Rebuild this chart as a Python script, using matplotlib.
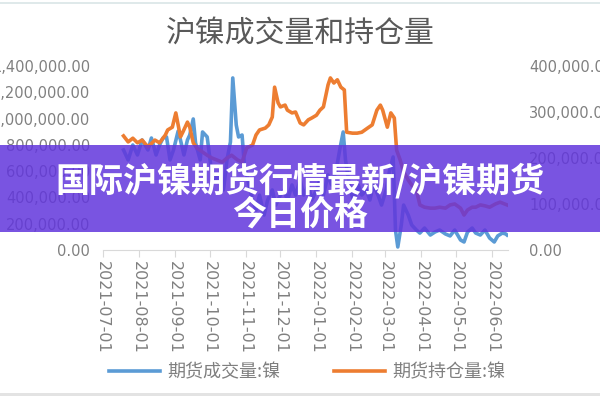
import matplotlib
matplotlib.use("Agg")
import matplotlib.pyplot as plt
import matplotlib.dates as mdates
from matplotlib.patches import Rectangle
from matplotlib.ticker import FuncFormatter, MultipleLocator
import pandas as pd

plt.rcParams['font.family'] = ['Noto Sans CJK SC', 'DejaVu Sans']

# 期货成交量:镍 (left axis), values in thousands
vol_dates = [
    "2021-07-19", "2021-07-23", "2021-07-27", "2021-07-31",
    "2021-08-04", "2021-08-09", "2021-08-12", "2021-08-16", "2021-08-19", "2021-08-22",
    "2021-08-25", "2021-08-28", "2021-08-31",
    "2021-09-04", "2021-09-06", "2021-09-09", "2021-09-12", "2021-09-14", "2021-09-17",
    "2021-09-19", "2021-09-23", "2021-09-25", "2021-09-29",
    "2021-10-02", "2021-10-06", "2021-10-09", "2021-10-13", "2021-10-16", "2021-10-19",
    "2021-10-21", "2021-10-24", "2021-10-26", "2021-10-29", "2021-10-31",
    "2021-11-03", "2021-11-07", "2021-11-10", "2021-11-13", "2021-11-17", "2021-11-20",
    "2021-11-24", "2021-11-27",
    "2021-12-01", "2021-12-04", "2021-12-07", "2021-12-11", "2021-12-14", "2021-12-18",
    "2021-12-21", "2021-12-25", "2021-12-28",
    "2022-01-01", "2022-01-04", "2022-01-07", "2022-01-11", "2022-01-14", "2022-01-18",
    "2022-01-21", "2022-01-24", "2022-01-26", "2022-01-30",
    "2022-02-02", "2022-02-06", "2022-02-09", "2022-02-13", "2022-02-16", "2022-02-19",
    "2022-02-23", "2022-02-26",
    "2022-03-02", "2022-03-05", "2022-03-08", "2022-03-10", "2022-03-12", "2022-03-15",
    "2022-03-17", "2022-03-21", "2022-03-24", "2022-03-28", "2022-03-31",
    "2022-04-04", "2022-04-09", "2022-04-13", "2022-04-17", "2022-04-22", "2022-04-26",
    "2022-04-30",
    "2022-05-05", "2022-05-08", "2022-05-11", "2022-05-15", "2022-05-18", "2022-05-22",
    "2022-05-26", "2022-05-30",
    "2022-06-03", "2022-06-06", "2022-06-10", "2022-06-13", "2022-06-14",
]
vol_k = [
    761, 685, 799, 723,
    837, 761, 852, 723, 799, 852, 860, 685, 761,
    905, 837, 723, 837, 875, 997, 814, 685, 898, 860,
    647, 533, 571, 457, 685, 822, 1309, 951, 860, 875, 647,
    533, 380, 304, 418, 266, 380, 457, 342,
    418, 457, 380, 495, 418, 533, 418, 495, 380,
    457, 533, 418, 571, 495, 609, 761, 898, 685, 457,
    380, 495, 418, 457, 380, 495, 418, 342,
    457, 609, 708, 152, 23, 190, 342, 266, 190, 152, 129,
    167, 114, 137, 152, 122, 107, 152,
    76, 61, 137, 167, 129, 114, 152, 91,
    61, 107, 129, 122, 114,
]

# 期货持仓量:镍 (right axis), values in thousands
oi_dates = [
    "2021-07-19", "2021-07-23", "2021-07-27", "2021-07-31",
    "2021-08-04", "2021-08-09", "2021-08-15", "2021-08-19", "2021-08-24", "2021-08-26",
    "2021-08-30",
    "2021-09-02", "2021-09-06", "2021-09-08", "2021-09-12", "2021-09-14", "2021-09-17",
    "2021-09-20", "2021-09-25", "2021-09-29",
    "2021-10-03", "2021-10-07", "2021-10-12", "2021-10-16", "2021-10-20", "2021-10-25",
    "2021-10-29",
    "2021-11-02", "2021-11-07", "2021-11-10", "2021-11-13", "2021-11-18", "2021-11-21",
    "2021-11-24", "2021-11-26", "2021-11-29",
    "2021-12-01", "2021-12-05", "2021-12-07", "2021-12-11", "2021-12-14", "2021-12-18",
    "2021-12-21", "2021-12-25", "2021-12-28",
    "2022-01-01", "2022-01-04", "2022-01-07", "2022-01-11", "2022-01-13", "2022-01-16",
    "2022-01-19", "2022-01-22", "2022-01-25", "2022-01-27",
    "2022-02-01", "2022-02-05", "2022-02-09", "2022-02-14", "2022-02-18", "2022-02-22",
    "2022-02-25", "2022-02-27",
    "2022-03-03", "2022-03-06", "2022-03-09", "2022-03-11", "2022-03-14", "2022-03-17",
    "2022-03-21", "2022-03-24", "2022-03-28", "2022-03-31",
    "2022-04-04", "2022-04-09", "2022-04-13", "2022-04-17", "2022-04-22", "2022-04-26",
    "2022-04-30",
    "2022-05-05", "2022-05-08", "2022-05-11", "2022-05-15", "2022-05-18", "2022-05-22",
    "2022-05-26", "2022-05-30",
    "2022-06-04", "2022-06-08", "2022-06-12", "2022-06-14",
]
oi_k = [
    248, 235, 243, 233,
    239, 224, 239, 233, 250, 261, 267,
    298, 246, 256, 278, 267, 233, 222, 213, 206,
    200, 196, 191, 200, 206, 196, 191,
    222, 228, 250, 261, 265, 272, 289, 354, 320,
    311, 315, 304, 298, 300, 276, 272, 283, 287,
    293, 304, 311, 359, 374, 363, 370, 354, 348, 256,
    254, 254, 256, 265, 272, 304, 315, 304,
    267, 298, 287, 217, 196, 170, 152, 141, 130, 98,
    93, 91, 91, 93, 91, 98, 100,
    91, 76, 87, 93, 93, 98, 96, 93,
    100, 104, 100, 98,
]

month_ticks = pd.date_range("2021-07-01", "2022-06-01", freq="MS")

title = "沪镍成交量和持仓量"
vol_label = "期货成交量:镍"
oi_label = "期货持仓量:镍"
banner_lines = ["国际沪镍期货行情最新/沪镍期货", "今日价格"]

BLUE = "#5B9BD5"
ORANGE = "#ED7D31"
GRAY = "#808080"

fig = plt.figure(figsize=(6, 4), dpi=100)
ax = fig.add_axes([0.171, 0.375, 0.676, 0.46])
ax2 = ax.twinx()

vd = pd.to_datetime(vol_dates)
od = pd.to_datetime(oi_dates)
l1, = ax.plot(vd, [v * 1000 for v in vol_k], color=BLUE, lw=2.6, solid_joinstyle="round")
l2, = ax2.plot(od, [v * 1000 for v in oi_k], color=ORANGE, lw=2.6, solid_joinstyle="round")

ax.set_ylim(0, 1400000)
ax2.set_ylim(0, 400000)
ax.yaxis.set_major_locator(MultipleLocator(200000))
ax2.yaxis.set_major_locator(MultipleLocator(100000))
fmt = FuncFormatter(lambda v, p: f"{v:,.2f}")
ax.yaxis.set_major_formatter(fmt)
ax2.yaxis.set_major_formatter(fmt)
ax.set_xlim(pd.Timestamp("2021-07-01"), pd.Timestamp("2022-06-15"))

ax.set_xticks(month_ticks)
ax.xaxis.set_major_formatter(mdates.DateFormatter("%Y-%m-%d"))

for a in (ax, ax2):
    for s in a.spines.values():
        s.set_visible(False)
ax.spines["bottom"].set_visible(True)
ax.spines["bottom"].set_color("#d9d9d9")

ax.tick_params(axis="y", length=0, pad=9, labelsize=10.5, labelcolor=GRAY)
ax2.tick_params(axis="y", length=0, pad=15, labelsize=10.5, labelcolor=GRAY)
ax.tick_params(axis="x", length=5, color="#d9d9d9", pad=3, labelsize=11.5,
               labelcolor=GRAY, labelrotation=-90)
for lab in ax.get_yticklabels() + ax2.get_yticklabels() + ax.get_xticklabels():
    lab.set_family(["DejaVu Sans"])

fig.text(0.5, 1 - 33 / 400, title, ha="center", va="center", fontsize=21.5,
         color="#595959", fontweight="light")

fig.legend([l1, l2], [vol_label, oi_label], loc="center", bbox_to_anchor=(0.512, 0.07),
           ncol=2, frameon=False, fontsize=13, labelcolor="#7f7f7f",
           handlelength=2.8, handletextpad=0.4, columnspacing=3.0)

# top / bottom screenshot borders
fig.add_artist(Rectangle((0, 1 - 4 / 400), 1, 2 / 400, transform=fig.transFigure,
                         facecolor="#dfe9ea", edgecolor="none"))
fig.add_artist(Rectangle((0, 1 - 396 / 400), 1, 3 / 400, transform=fig.transFigure,
                         facecolor="#e3e3e3", edgecolor="none"))

# purple banner
fig.add_artist(Rectangle((0, 1 - 232 / 400), 1, 87 / 400, transform=fig.transFigure,
                         facecolor="#6236dc", edgecolor="none", alpha=0.85, zorder=10))
fig.text(0.5, 1 - 181 / 400, banner_lines[0], ha="center", va="center", fontsize=24.5,
         color="white", fontweight="heavy", zorder=11)
fig.text(0.5, 1 - 214 / 400, banner_lines[1], ha="center", va="center", fontsize=24.5,
         color="white", fontweight="heavy", zorder=11)

fig.savefig("out.png", dpi=100)
